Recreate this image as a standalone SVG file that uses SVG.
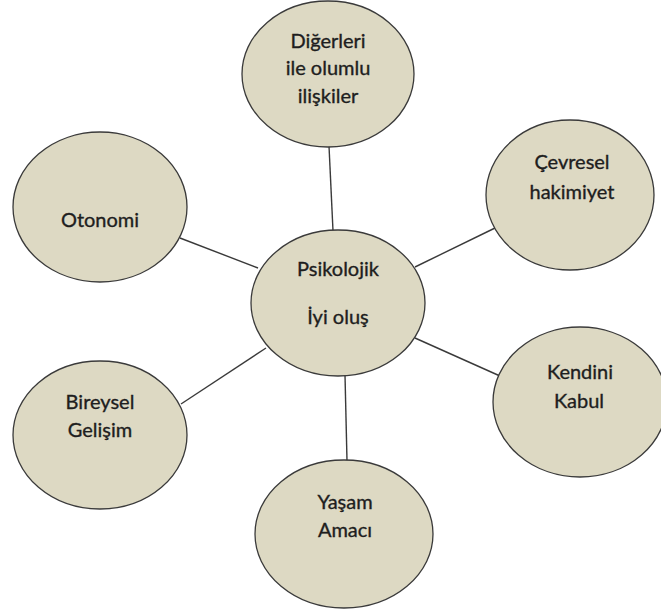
<svg xmlns="http://www.w3.org/2000/svg" width="661" height="614" viewBox="0 0 661 614">
<style>
.n{fill:#DDD9C3;stroke:#3a3a3a;stroke-width:1.3}
.c line{stroke:#3a3a3a;stroke-width:1.4}
text{font-family:Lato,"Open Sans","Liberation Sans",sans-serif;font-size:20px;fill:#1e1e1e;stroke:#1e1e1e;stroke-width:0.35;text-anchor:middle}
</style>
<rect width="661" height="614" fill="#fff"/>
<g id="connectors" class="c">
<line x1="329" y1="146" x2="333" y2="231"/>
<line x1="180" y1="238" x2="258" y2="268"/>
<line x1="181" y1="404" x2="266" y2="348"/>
<line x1="415" y1="267" x2="495" y2="228"/>
<line x1="415" y1="338" x2="500" y2="376"/>
<line x1="345" y1="375" x2="347" y2="461"/>
</g>
<g id="n-diger"><ellipse class="n" cx="328" cy="74" rx="86" ry="73"/><text x="328" y="48">Diğerleri</text><text x="328" y="75">ile olumlu</text><text x="328" y="103">ilişkiler</text></g>
<g id="n-center"><ellipse class="n" cx="338" cy="303" rx="87" ry="73"/><text x="338" y="276">Psikolojik</text><text x="338" y="324">İyi oluş</text></g>
<g id="n-cevre"><ellipse class="n" cx="570" cy="195" rx="84" ry="75"/><text x="572" y="169">Çevresel</text><text x="572" y="199">hakimiyet</text></g>
<g id="n-otonomi"><ellipse class="n" cx="100" cy="207" rx="87" ry="75"/><text x="100" y="227">Otonomi</text></g>
<g id="n-kendini"><ellipse class="n" cx="580" cy="402" rx="87" ry="75"/><text x="580" y="379">Kendini</text><text x="579" y="408">Kabul</text></g>
<g id="n-bireysel"><ellipse class="n" cx="100" cy="435" rx="87" ry="74"/><text x="100" y="409">Bireysel</text><text x="100" y="437">Gelişim</text></g>
<g id="n-yasam"><ellipse class="n" cx="344" cy="534" rx="89" ry="74"/><text x="345" y="509">Yaşam</text><text x="345" y="537">Amacı</text></g>
</svg>
